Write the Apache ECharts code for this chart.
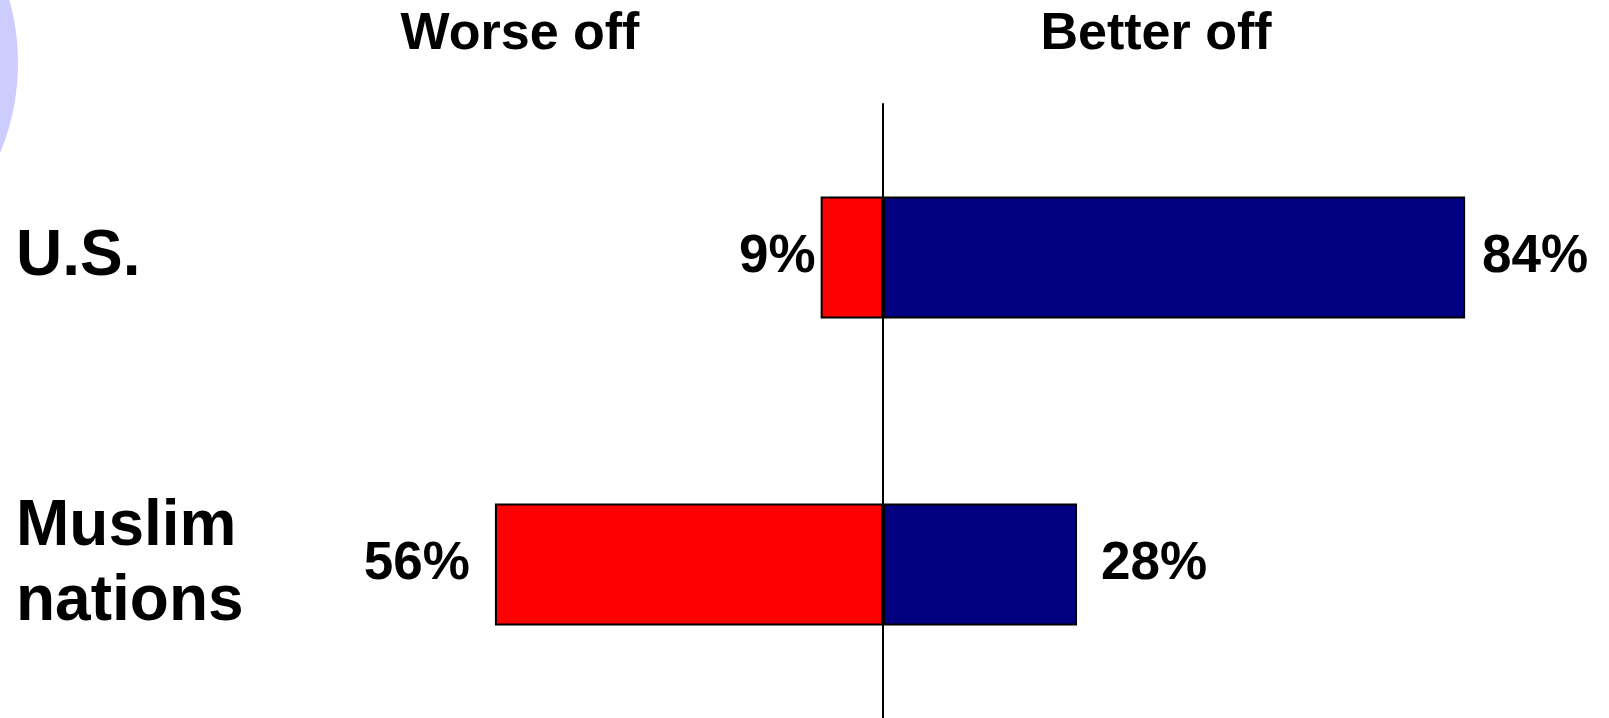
<!DOCTYPE html>
<html>
<head>
<meta charset="utf-8">
<script src="https://cdn.jsdelivr.net/npm/echarts@6/dist/echarts.min.js"></script>
<style>
html,body{margin:0;padding:0;background:#fff;}
#chart{width:1609px;height:718px;}
</style>
</head>
<body>
<div id="chart"></div>
<script>
const categories = ['U.S.', 'Muslim\nnations'];
const worseOff = [9, 56];
const betterOff = [84, 28];
const headerLabels = ['Worse off', 'Better off'];

const FONT = '"Liberation Sans", Arial, sans-serif';
const worseGap = [5, 25];
const betterGap = [17, 24];
const catPadding = [[20, 0, 0, 0], [0, 0, 14, 0]];

const chart = echarts.init(document.getElementById('chart'));

const labelBase = {
  show: true,
  fontFamily: FONT,
  fontSize: 53,
  fontWeight: 'bold',
  color: '#000',
  formatter: p => Math.abs(p.value) + '%'
};

chart.setOption({
  animation: false,
  backgroundColor: '#fff',
  grid: { left: 190, right: 33, top: 104, bottom: 0, containLabel: false, outerBoundsMode: 'none' },
  xAxis: {
    type: 'value', min: -100, max: 100,
    axisLine: { show: false }, axisTick: { show: false },
    axisLabel: { show: false }, splitLine: { show: false }
  },
  yAxis: [
    {
      type: 'category', inverse: true, data: categories,
      axisLine: { show: true, onZero: true, lineStyle: { color: '#000', width: 2 } },
      axisTick: { show: false }, axisLabel: { show: false }
    },
    {
      type: 'category', inverse: true, position: 'left',
      data: categories.map((c, i) => ({ value: c, textStyle: { padding: catPadding[i], align: 'left' } })),
      axisLine: { show: false }, axisTick: { show: false },
      axisLabel: {
        show: true, align: 'left', margin: 174,
        fontFamily: FONT, fontSize: 64, fontWeight: 'bold', color: '#000', lineHeight: 75
      }
    }
  ],
  series: [
    {
      name: headerLabels[0], type: 'bar', stack: 'total', yAxisIndex: 0, barWidth: 122,
      itemStyle: { color: '#ff0000', borderColor: '#000', borderWidth: 2 },
      data: worseOff.map((v, i) => ({
        value: -v,
        label: Object.assign({}, labelBase, { position: 'left', distance: worseGap[i] })
      }))
    },
    {
      name: headerLabels[1], type: 'bar', stack: 'total', yAxisIndex: 0, barWidth: 122,
      itemStyle: { color: '#000080', borderColor: '#000', borderWidth: 2 },
      data: betterOff.map((v, i) => ({
        value: v,
        label: Object.assign({}, labelBase, { position: 'right', distance: betterGap[i] })
      }))
    }
  ],
  graphic: [
    { type: 'circle', shape: { cx: -216, cy: 63, r: 234 }, style: { fill: '#ccccff' }, z: -1 },
    { type: 'text', x: 520, y: 35, style: { text: headerLabels[0], font: 'bold 52px ' + FONT, fill: '#000', textAlign: 'center', textVerticalAlign: 'middle' } },
    { type: 'text', x: 1156, y: 35, style: { text: headerLabels[1], font: 'bold 52px ' + FONT, fill: '#000', textAlign: 'center', textVerticalAlign: 'middle' } }
  ]
});
</script>
</body>
</html>
